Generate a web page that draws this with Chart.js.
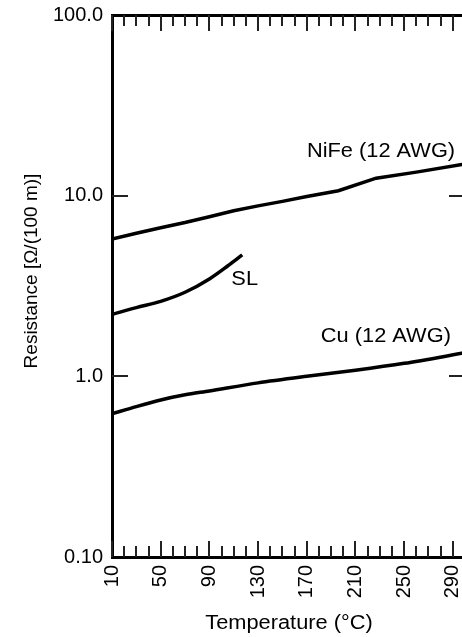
<!DOCTYPE html>
<html>
<head>
<meta charset="utf-8">
<script src="https://cdn.jsdelivr.net/npm/chart.js@4"></script>
<style>
  html, body { margin: 0; padding: 0; overflow: hidden; background: #fff; }
  canvas { display: block; }
</style>
</head>
<body>
<canvas id="chart" width="466" height="637"></canvas>
<script>
// values
const nifeTemps = [10, 30, 50, 70, 90, 110, 130, 150, 170, 196, 227, 260, 300]
const nifeRes = [5.75, 6.2, 6.65, 7.1, 7.65, 8.25, 8.78, 9.3, 9.9, 10.65, 12.5, 13.5, 15.0]
const slTemps = [10, 30, 50, 70, 90, 105, 117]
const slRes = [2.2, 2.4, 2.6, 2.92, 3.46, 4.08, 4.7]
const cuTemps = [10, 30, 50, 70, 90, 130, 170, 210, 250, 300]
const cuRes = [0.62, 0.68, 0.74, 0.79, 0.83, 0.92, 1.0, 1.08, 1.18, 1.35]

const xTickLabels = [10, 50, 90, 130, 170, 210, 250, 290]
const yTickValues = [0.1, 1, 10, 100]
const yTickLabels = ['0.10', '1.0', '10.0', '100.0']

const seriesLabels = [
  { text: 'NiFe (12 AWG)', x: 231, y: 17.5 },
  { text: 'SL', x: 119, y: 3.45 },
  { text: 'Cu (12 AWG)', x: 235, y: 1.66 },
]

const FONT = '"Liberation Sans", Arial, sans-serif'

const toPoints = (xs, ys) => xs.map((x, i) => ({ x: x, y: ys[i] }))

function stretchedText(ctx, text, cx, cy, size) {
  ctx.save()
  ctx.translate(cx, cy)
  ctx.scale(1.09, 1)
  ctx.font = size + 'px ' + FONT
  ctx.fillStyle = '#000'
  ctx.textAlign = 'center'
  ctx.textBaseline = 'middle'
  ctx.fillText(text, 0, 0)
  ctx.restore()
}

function noPadding(scale) {
  scale.paddingLeft = 0
  scale.paddingRight = 0
  scale.paddingTop = 0
  scale.paddingBottom = 0
}

// inward tick marks on all four sides + text labels
const framePlugin = {
  id: 'frame',
  afterDraw(chart) {
    const ctx = chart.ctx
    const area = chart.chartArea
    const xs = chart.scales.x
    const ys = chart.scales.y
    ctx.save()
    ctx.strokeStyle = '#222'
    ctx.lineWidth = 2
    ctx.beginPath()
    xs.ticks.forEach(t => {
      const px = Math.round(xs.getPixelForValue(t.value))
      const len = (t.value - 10) % 40 === 0 ? 16 : 11
      ctx.moveTo(px, area.bottom)
      ctx.lineTo(px, area.bottom - len)
      ctx.moveTo(px, area.top)
      ctx.lineTo(px, area.top + len)
    })
    yTickValues.slice(1, -1).forEach(v => {
      const py = Math.round(ys.getPixelForValue(v))
      ctx.moveTo(area.left, py)
      ctx.lineTo(area.left + 16, py)
      ctx.moveTo(area.right, py)
      ctx.lineTo(area.right - 16, py)
    })
    ctx.stroke()
    ctx.restore()

    seriesLabels.forEach(l => {
      stretchedText(ctx, l.text, xs.getPixelForValue(l.x), ys.getPixelForValue(l.y), 20)
    })
    stretchedText(ctx, 'Temperature (°C)', 289, 623, 20)

    ctx.save()
    ctx.translate(32, 271)
    ctx.rotate(-Math.PI / 2)
    ctx.font = '19px ' + FONT
    ctx.fillStyle = '#000'
    ctx.textAlign = 'center'
    ctx.textBaseline = 'middle'
    ctx.fillText('Resistance [Ω/(100 m)]', 0, 0)
    ctx.restore()
  }
}

const lineStyle = {
  borderColor: '#000',
  borderWidth: 3.5,
  pointRadius: 0,
  fill: false,
}

new Chart(document.getElementById('chart').getContext('2d'), {
  type: 'line',
  data: {
    datasets: [
      { ...lineStyle, label: 'NiFe (12 AWG)', data: toPoints(nifeTemps, nifeRes), tension: 0 },
      { ...lineStyle, label: 'SL', data: toPoints(slTemps, slRes), cubicInterpolationMode: 'monotone' },
      { ...lineStyle, label: 'Cu (12 AWG)', data: toPoints(cuTemps, cuRes), tension: 0.3 },
    ],
  },
  options: {
    responsive: false,
    animation: false,
    devicePixelRatio: 1,
    layout: { padding: 0 },
    plugins: {
      legend: { display: false },
      tooltip: { enabled: false },
    },
    scales: {
      x: {
        type: 'linear',
        position: 'bottom',
        min: 10,
        max: 300,
        grid: { display: false, drawTicks: false },
        border: { display: true, color: '#000', width: 3 },
        ticks: {
          stepSize: 10,
          autoSkip: false,
          minRotation: 90,
          maxRotation: 90,
          padding: 8,
          color: '#000',
          font: { family: FONT, size: 20 },
          callback: v => xTickLabels.includes(v) ? String(v) : '',
        },
        afterFit(scale) { scale.height = 80; noPadding(scale) },
      },
      x2: {
        type: 'linear',
        position: 'top',
        min: 10,
        max: 300,
        grid: { display: false, drawTicks: false },
        border: { display: true, color: '#000', width: 3 },
        ticks: { display: false },
        afterFit(scale) { scale.height = 15; noPadding(scale) },
      },
      y: {
        type: 'logarithmic',
        position: 'left',
        min: 0.1,
        max: 100,
        grid: { display: false, drawTicks: false },
        border: { display: true, color: '#000', width: 3 },
        afterBuildTicks(scale) {
          scale.ticks = yTickValues.map(v => ({ value: v }))
        },
        ticks: {
          padding: 9,
          color: '#000',
          font: { family: FONT, size: 20 },
          callback: v => {
            const i = yTickValues.indexOf(v)
            return i >= 0 ? yTickLabels[i] : ''
          },
        },
        afterFit(scale) { scale.width = 112; noPadding(scale) },
      },
      y2: {
        type: 'logarithmic',
        position: 'right',
        min: 0.1,
        max: 100,
        grid: { display: false, drawTicks: false },
        border: { display: false },
        ticks: { display: false },
        afterFit(scale) { scale.width = 1; noPadding(scale) },
      },
    },
  },
  plugins: [framePlugin],
})
</script>
</body>
</html>
